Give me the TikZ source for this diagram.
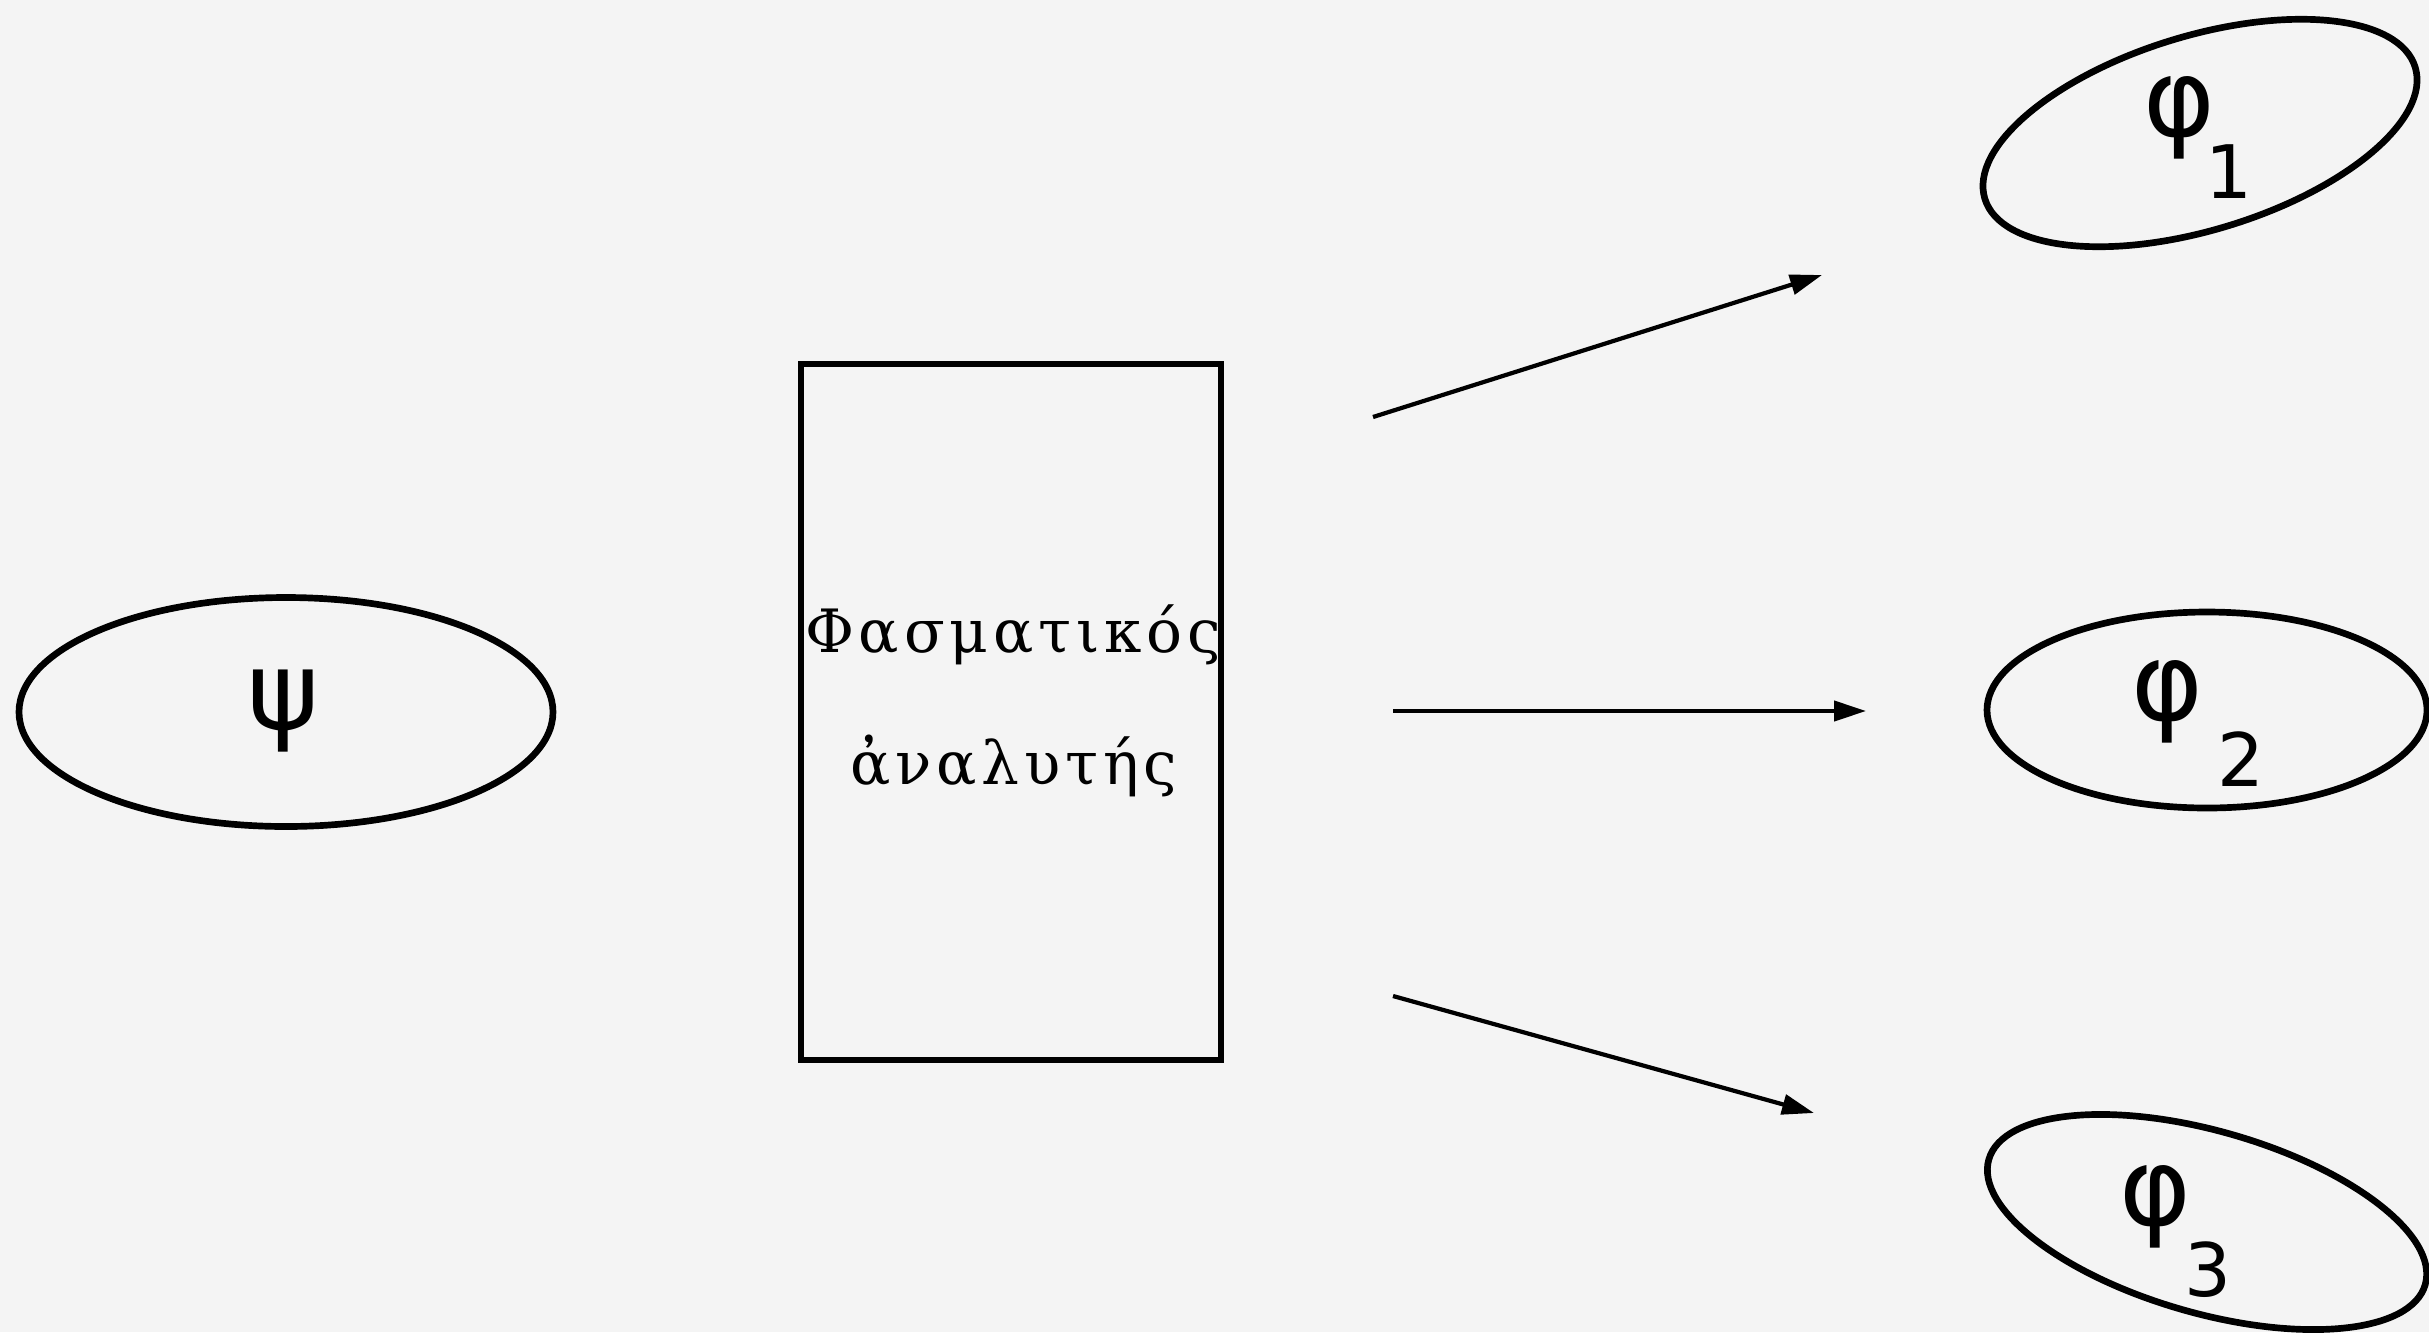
\documentclass[tikz,border=0pt]{standalone}
\usepackage{fontspec}
\usetikzlibrary{shapes.geometric,arrows.meta}
\newfontfamily\boxfont[LetterSpace=8]{DejaVu Serif}
\newfontfamily\symfont{DejaVu Sans}
\definecolor{paper}{HTML}{F4F4F4}
\tikzset{
  state/.style={ellipse, draw=black, line width=1.9pt, inner sep=0pt},
  analyser/.style={rectangle, draw=black, line width=1.8pt, inner sep=0pt},
  boxtext/.style={inner sep=0pt, anchor=base, font=\boxfont\fontsize{17}{19}\selectfont},
  bigsym/.style={inner sep=0pt, font=\symfont\fontsize{31}{33}\selectfont},
  subsym/.style={inner sep=0pt, font=\symfont\fontsize{21}{22}\selectfont},
  beam/.style={line width=1.2pt, -{Triangle[length=3.2mm,width=2mm]}}
}
\begin{document}
\begin{tikzpicture}[x=0.1mm,y=-0.1mm]
\fill[paper] (0,0) rectangle (2429,1332);
\useasboundingbox (0,0) rectangle (2429,1332);
% input state
\node[state, minimum width=53.4mm, minimum height=22.9mm] (psi) at (286,712) {};
\node[bigsym] (psit) at (283,711) {ψ};
% analyser
\node[analyser, minimum width=42mm, minimum height=69.6mm] (box) at (1011,712) {};
\node[boxtext] (l1) at (1013,652) {Φασματικός};
\node[boxtext] (l2) at (1014,784) {ἀναλυτής};
% output states
\node[state, minimum width=45mm, minimum height=19.4mm, rotate=17] (e1) at (2200,133) {};
\node[state, minimum width=44mm, minimum height=19.6mm] (e2) at (2207,710) {};
\node[state, minimum width=45.4mm, minimum height=18.2mm, rotate=-16] (e3) at (2207,1222) {};
\node[bigsym] (p1) at (2179,118) {φ};
\node[subsym] (s1) at (2229,172) {1};
\node[bigsym] (p2) at (2167,702) {φ};
\node[subsym] (s2) at (2241,759) {2};
\node[bigsym] (p3) at (2155,1207) {φ};
\node[subsym] (s3) at (2208,1270) {3};
% beams
\coordinate (a1s) at (1373,417);
\coordinate (a1e) at (1822,275);
\coordinate (a2s) at (1393,711);
\coordinate (a2e) at (1866,711);
\coordinate (a3s) at (1393,996);
\coordinate (a3e) at (1814,1113);
\draw[beam] (a1s) -- (a1e);
\draw[beam] (a2s) -- (a2e);
\draw[beam] (a3s) -- (a3e);
\end{tikzpicture}
\end{document}
